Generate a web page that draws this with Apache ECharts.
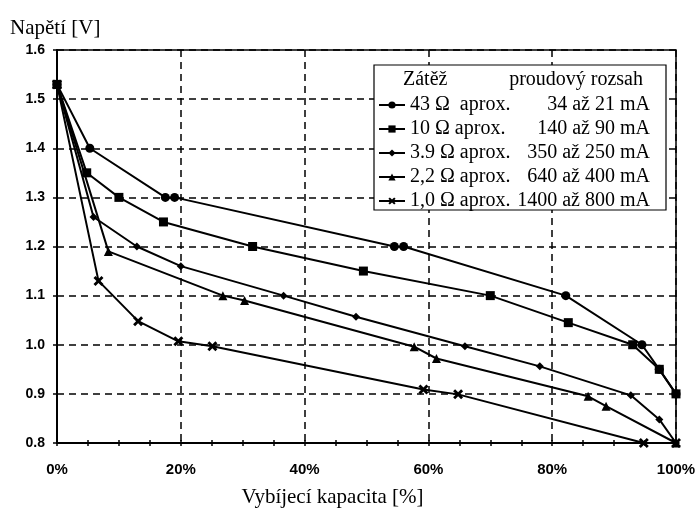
<!DOCTYPE html>
<html>
<head>
<meta charset="utf-8">
<script src="https://cdn.jsdelivr.net/npm/echarts@6/dist/echarts.min.js"></script>
<style>
html,body{margin:0;padding:0;background:#fff;}
#chart{width:696px;height:510px;}
</style>
</head>
<body>
<div id="chart"></div>
<script>
// ---- data ----
const xTicks = [0, 20, 40, 60, 80, 100];
const yTicks = [0.8, 0.9, 1.0, 1.1, 1.2, 1.3, 1.4, 1.5, 1.6];

const loads = ['43 Ω ', '10 Ω', '3.9 Ω', '2,2 Ω', '1,0 Ω'];
const ranges = ['34 až 21 mA', '140 až 90 mA', '350 až 250 mA', '640 až 400 mA', '1400 až 800 mA'];

const x43 = [0, 5.3, 17.5, 19.0, 54.5, 56.0, 82.2, 94.5, 97.3, 100];
const v43 = [1.53, 1.40, 1.30, 1.30, 1.20, 1.20, 1.10, 1.00, 0.95, 0.90];

const x10 = [0, 4.8, 10.0, 17.2, 31.6, 49.5, 70.0, 82.6, 93.0, 97.3, 100];
const v10 = [1.53, 1.35, 1.30, 1.25, 1.20, 1.15, 1.10, 1.045, 1.00, 0.95, 0.90];

const x39 = [0, 5.9, 12.9, 20.0, 36.6, 48.3, 65.9, 78.0, 92.7, 97.3, 100];
const v39 = [1.53, 1.26, 1.20, 1.16, 1.10, 1.057, 0.997, 0.956, 0.897, 0.848, 0.80];

const x22 = [0, 8.3, 26.8, 30.3, 57.7, 61.3, 85.8, 88.7, 100];
const v22 = [1.53, 1.19, 1.10, 1.09, 0.996, 0.972, 0.895, 0.875, 0.80];

const x10b = [0, 6.7, 13.1, 19.6, 25.1, 59.2, 64.8, 94.8, 100];
const v10b = [1.53, 1.13, 1.048, 1.007, 0.997, 0.909, 0.899, 0.80, 0.80];

const seriesX = [x43, x10, x39, x22, x10b];
const seriesV = [v43, v10, v39, v22, v10b];

// ---- styles ----
const crossPath = 'path://M0,2L2,0L5,3L8,0L10,2L7,5L10,8L8,10L5,7L2,10L0,8L3,5Z';
const symbols = ['circle', 'rect', 'diamond', 'triangle', crossPath];
const symbolSizes = [9, 9, 8, 9, 10];
const serif = '"Liberation Serif", "DejaVu Serif", serif';
const sans = '"Liberation Sans", Arial, sans-serif';

const pairs = (xs, vs) => xs.map((x, i) => [x, vs[i]]);

const series = loads.map((name, i) => ({
  name: name,
  type: 'line',
  data: pairs(seriesX[i], seriesV[i]),
  symbol: symbols[i],
  symbolSize: symbolSizes[i],
  showAllSymbol: true,
  lineStyle: { color: '#000', width: 2 },
  itemStyle: { color: '#000', borderColor: '#000', borderWidth: 0 },
  emphasis: { disabled: true },
  z: 5
}));

const rangeMap = {};
loads.forEach((n, i) => { rangeMap[n] = ranges[i]; });

const chart = echarts.init(document.getElementById('chart'), null, { renderer: 'canvas' });

const baseX = {
  type: 'value', min: xTicks[0], max: xTicks[xTicks.length - 1], interval: 20,
  position: 'bottom'
};

chart.setOption({
  animation: false,
  backgroundColor: '#fff',
  grid: { left: 57, right: 20, top: 50, bottom: 67, show: true, borderColor: '#000', borderWidth: 1.5,
          backgroundColor: 'transparent', containLabel: false, outerBoundsMode: 'none' },
  xAxis: [
    Object.assign({}, baseX, {
      name: 'Vybíjecí kapacita [%]',
      nameLocation: 'middle',
      nameGap: 44,
      nameTextStyle: { fontFamily: serif, fontSize: 21, color: '#000', padding: [0, 68, 0, 0] },
      axisLine: { show: true, lineStyle: { color: '#000', width: 2 } },
      axisTick: { show: true, inside: false, length: 3, lineStyle: { color: '#000', width: 1.5 } },
      minorTick: { show: true, splitNumber: 4, length: 3, lineStyle: { color: '#000', width: 1.5 } },
      axisLabel: { formatter: '{value}%', fontFamily: sans, fontWeight: 'bold', fontSize: 15, color: '#000', margin: 19 },
      splitLine: { show: true, lineStyle: { color: '#000', width: 1.5, type: [7, 5] } }
    }),
    Object.assign({}, baseX, {
      axisLine: { show: false },
      axisTick: { show: true, inside: true, length: 3, lineStyle: { color: '#000', width: 1.5 } },
      minorTick: { show: true, splitNumber: 4, length: 3, lineStyle: { color: '#000', width: 1.5 } },
      axisLabel: { show: false },
      splitLine: { show: false }
    })
  ],
  yAxis: {
    type: 'value', min: yTicks[0], max: yTicks[yTicks.length - 1], interval: 0.1,
    name: 'Napětí [V]',
    nameLocation: 'end',
    nameGap: 11,
    nameTextStyle: { fontFamily: serif, fontSize: 21, color: '#000', align: 'left', padding: [0, 0, 0, -47] },
    axisLine: { show: true, lineStyle: { color: '#000', width: 2 } },
    axisTick: { show: true, inside: false, length: 4, lineStyle: { color: '#000', width: 1.5 } },
    axisLabel: { formatter: v => v.toFixed(1), fontFamily: sans, fontWeight: 'bold', fontSize: 14, color: '#000', margin: 12 },
    splitLine: { show: true, lineStyle: { color: '#000', width: 1.5, type: [7, 5] } }
  },
  legend: {
    orient: 'vertical',
    left: 373,
    top: 88,
    itemWidth: 26,
    itemHeight: 9,
    itemGap: 0,
    z: 10,
    data: loads,
    selectedMode: false,
    formatter: name => '{a|' + name + ' aprox.}{b|' + rangeMap[name] + '}',
    textStyle: {
      fontFamily: serif, fontSize: 20, color: '#000', lineHeight: 24,
      rich: {
        a: { fontFamily: serif, fontSize: 20, color: '#000', width: 106, lineHeight: 24 },
        b: { fontFamily: serif, fontSize: 20, color: '#000', width: 134, align: 'right', lineHeight: 24 }
      }
    }
  },
  graphic: [
    { type: 'rect', z: 8, shape: { x: 374, y: 65, width: 292, height: 145 },
      style: { fill: '#fff', stroke: '#000', lineWidth: 1.2 } },
    { type: 'text', z: 9, x: 403, y: 80,
      style: { text: 'Zátěž', font: '20px ' + serif, fill: '#000', verticalAlign: 'middle' } },
    { type: 'text', z: 9, x: 643, y: 80,
      style: { text: 'proudový rozsah', font: '20px ' + serif, fill: '#000', align: 'right', verticalAlign: 'middle' } }
  ],
  series: series
});
</script>
</body>
</html>
